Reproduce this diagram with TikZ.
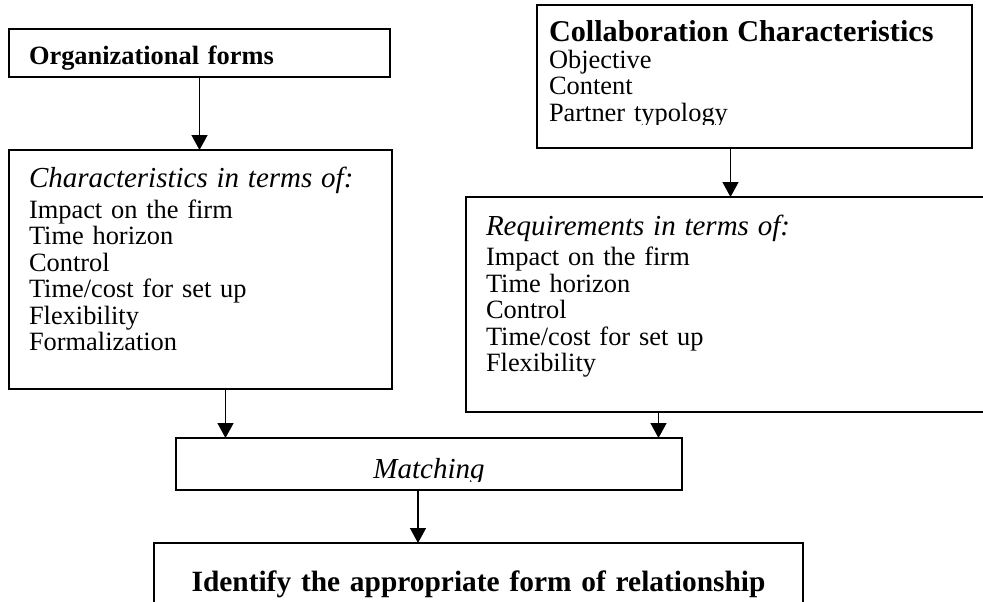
\documentclass[tikz,border=0pt]{standalone}
\usepackage{fontspec}
\setmainfont{Liberation Serif}
\usetikzlibrary{arrows.meta, positioning}

\begin{document}
\begin{tikzpicture}[
    x=1pt, y=-1pt,
    box/.style={rectangle, draw, line width=1.3pt, anchor=north west, align=left, inner xsep=20pt, inner ysep=0pt, outer sep=0pt, font=\fontsize{26.4}{26.5}\selectfont},
    frame/.style={line width=1.3pt},
    arrow/.style={-{Triangle[width=16pt,length=15pt]}, line width=1.5pt}
]
    \useasboundingbox (0,0) rectangle (983,602);
    \clip (0,0) rectangle (983,602);
    \fill[white] (0,0) rectangle (983,602);

    % Boxes
    \node[box, text width=341pt, text height=36pt, text depth=12pt] (orgforms) at (9,29) {\bfseries Organizational forms};
    \node[box, text width=343pt, text height=37pt, text depth=202pt] (charact) at (9,150)
        {{\itshape\fontsize{29}{26.5}\selectfont Characteristics in terms of:}\\[4.5pt]
         Impact on the firm\\ Time horizon\\ Control\\ Time/cost for set up\\ Flexibility\\ Formalization};
    \begin{scope}
        \clip (530,0) rectangle (980,124);
        \node[box, draw=none, inner xsep=12pt, text width=411pt, text height=37pt, text depth=106pt] (collab) at (537,5)
            {{\bfseries\fontsize{30.2}{26.5}\selectfont Collaboration Characteristics}\\
             Objective\\ Content\\ Partner typology};
    \end{scope}
    \draw[frame] (collab.north west) rectangle (collab.south east);
    \node[box, text width=489pt, text height=38pt, text depth=177pt] (req) at (466,197)
        {{\itshape\fontsize{29}{26.5}\selectfont Requirements in terms of:}\\[4pt]
         Impact on the firm\\ Time horizon\\ Control\\ Time/cost for set up\\ Flexibility};
    \begin{scope}
        \clip (170,430) rectangle (690,481);
        \node[box, draw=none, align=center, text width=466pt, text height=40pt, text depth=12pt,
              font=\itshape\fontsize{29}{34}\selectfont] (match) at (176,438) {Matching};
    \end{scope}
    \draw[frame] (match.north west) rectangle (match.south east);
    \node[box, align=center, text width=609pt, text height=48pt, text depth=63pt,
          font=\bfseries\fontsize{29.4}{34}\selectfont] (identify) at (154,543) {Identify the appropriate form of relationship};

    % Arrows
    \draw[arrow] (orgforms.south) -- (orgforms.south |- charact.north);
    \draw[arrow] (req.north |- collab.south) -- (req.north);
    \draw[arrow] ([xshift=25pt]charact.south) -- ([xshift=25pt]charact.south |- match.north);
    \draw[arrow] ([xshift=-72pt]req.south) -- ([xshift=-72pt]req.south |- match.north);
    \draw[arrow] ([xshift=-11pt]match.south) -- ([xshift=-11pt]match.south |- identify.north);
\end{tikzpicture}
\end{document}
